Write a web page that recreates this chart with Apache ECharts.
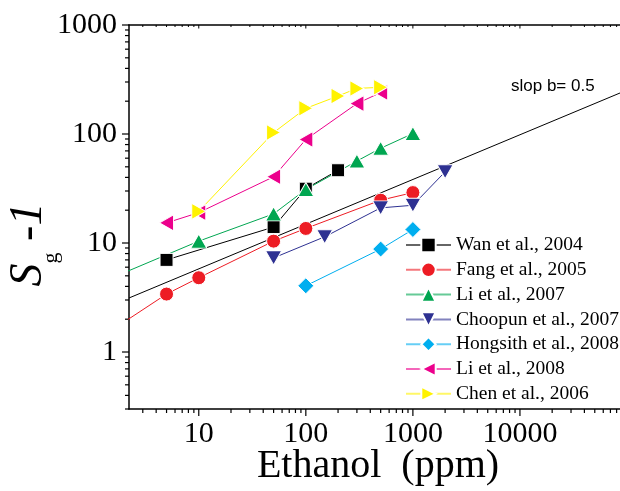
<!DOCTYPE html>
<html>
<head>
<meta charset="utf-8">
<script src="https://cdn.jsdelivr.net/npm/echarts@6/dist/echarts.min.js"></script>
<style>
  html, body { margin: 0; padding: 0; background: #fff; }
  #chart { width: 620px; height: 491px; }
</style>
</head>
<body>
<div id="chart"></div>
<script>
// axis ranges (log scale)
const X_MIN = 2.23, X_MAX = 100000;
const Y_MIN = 0.3, Y_MAX = 1000;
const xDecades = [1, 10, 100, 1000, 10000];
const yDecades = [0.1, 1, 10, 100];

// [ethanol ppm, Sg-1]
const wan2004 = [[5, 7], [50, 14], [100, 31.5], [200, 46.5]];
const fang2005 = [[1, 1.2], [5, 3.4], [10, 4.8], [50, 10.4], [100, 13.6], [500, 24.7], [1000, 29]];
const li2007 = [[1, 4], [10, 10.4], [50, 18.5], [100, 31], [300, 56.5], [500, 74], [1000, 101]];
const choopun2007 = [[50, 7.3], [150, 11.4], [500, 21], [1000, 22.2], [2000, 45]];
const hongsith2008 = [[100, 4.05], [500, 8.8], [1000, 13.3]];
const li2008 = [[5, 15.3], [10, 19], [50, 40.5], [100, 89], [300, 190], [500, 240]];
const chen2006 = [[10, 19.5], [50, 103], [100, 172], [200, 223], [300, 262], [500, 268]];
const slopeLine = [[2.23, 3.13], [100000, 253]];

const names = ['Wan et al., 2004', 'Fang et al., 2005', 'Li et al., 2007', 'Choopun et al., 2007',
  'Hongsith et al., 2008', 'Li et al., 2008', 'Chen et al., 2006'];
const colors = ['#000000', '#ed1c24', '#00a651', '#2e3192', '#00aeef', '#ec008c', '#fff200'];
const symbols = ['rect', 'circle', 'triangle', 'triangle', 'diamond', 'triangle', 'triangle'];
const symbolRotates = [0, 0, 0, 180, 0, 90, -90];
const symbolSizes = [13, 14, [16, 14], [16, 14], 16, [16, 14], [16, 14]];
const seriesData = [wan2004, fang2005, li2007, choopun2007, hongsith2008, li2008, chen2006];

const isPow10 = v => Math.abs(Math.log10(v) - Math.round(Math.log10(v))) < 1e-6;

// tick positions: every 1..9 multiple of each decade inside the range
let xTicks = [], yTicks = [];
xDecades.forEach(d => { for (let k = 1; k <= 9; k++) { const v = k * d; if (v >= X_MIN && v <= X_MAX) xTicks.push([v, Y_MIN]); } });
yDecades.forEach(d => { for (let k = 1; k <= 9; k++) { const v = Math.round(k * d * 10) / 10; if (v >= Y_MIN && v <= Y_MAX) yTicks.push([X_MIN, v]); } });
yTicks.push([X_MIN, 1000]);

const chart = echarts.init(document.getElementById('chart'));

const serif = 'Liberation Serif';

let series = [{
  type: 'line',
  name: 'slope',
  data: slopeLine,
  showSymbol: false,
  symbol: 'none',
  lineStyle: { color: '#000', width: 1 },
  z: 1,
  silent: true
}];

seriesData.forEach((d, i) => {
  series.push({
    type: 'line',
    name: names[i],
    data: d,
    symbol: symbols[i],
    symbolRotate: symbolRotates[i],
    symbolSize: symbolSizes[i],
    lineStyle: { color: colors[i], width: 1 },
    itemStyle: { color: colors[i], borderColor: '#fff', borderWidth: 1 },
    z: 3
  });
});

series.push({
  type: 'custom',
  silent: true,
  data: xTicks,
  renderItem: function (params, api) {
    const v = api.value(0);
    const b = api.coord([v, Y_MIN]);
    const t = api.coord([v, Y_MAX]);
    const len = isPow10(v) ? 7 : 4;
    return {
      type: 'group',
      children: [
        { type: 'line', shape: { x1: b[0], y1: b[1], x2: b[0], y2: b[1] + len }, style: { stroke: '#000', lineWidth: 1.2 } },
        { type: 'line', shape: { x1: t[0], y1: t[1], x2: t[0], y2: t[1] + len / 2 }, style: { stroke: '#000', lineWidth: 1 } }
      ]
    };
  }
});

series.push({
  type: 'custom',
  silent: true,
  data: yTicks,
  renderItem: function (params, api) {
    const v = api.value(1);
    const p = api.coord([X_MIN, v]);
    const len = isPow10(v) ? 7 : 4;
    return { type: 'line', shape: { x1: p[0], y1: p[1], x2: p[0] - len, y2: p[1] }, style: { stroke: '#000', lineWidth: 1.2 } };
  }
});

const labelFmt = v => (isPow10(v) && v < 50000) ? String(Math.round(v)) : '';

chart.setOption({
  animation: false,
  backgroundColor: '#fff',
  grid: { left: 129, top: 25, right: -7, bottom: 82, outerBoundsMode: 'none', containLabel: false },
  xAxis: [{
    type: 'log',
    logBase: 10,
    min: X_MIN,
    max: X_MAX,
    name: 'Ethanol  (ppm)',
    nameLocation: 'middle',
    nameGap: 37,
    nameMoveOverlap: false,
    nameTextStyle: { fontFamily: serif, fontSize: 40, lineHeight: 40, color: '#000' },
    axisLine: { lineStyle: { color: '#000', width: 1.5 } },
    axisTick: { show: false },
    splitLine: { show: false },
    axisLabel: { formatter: labelFmt, fontFamily: serif, fontSize: 30, lineHeight: 30, color: '#000', margin: 10 }
  }, {
    type: 'log',
    logBase: 10,
    min: X_MIN,
    max: X_MAX,
    position: 'top',
    axisLine: { lineStyle: { color: '#000', width: 1.5 } },
    axisTick: { show: false },
    axisLabel: { show: false },
    splitLine: { show: false }
  }],
  yAxis: {
    type: 'log',
    logBase: 10,
    min: Y_MIN,
    max: Y_MAX,
    axisLine: { lineStyle: { color: '#000', width: 1.5 } },
    axisTick: { show: false },
    splitLine: { show: false },
    axisLabel: { formatter: labelFmt, fontFamily: serif, fontSize: 30, color: '#000', margin: 12 }
  },
  legend: {
    orient: 'vertical',
    left: 405,
    top: 235,
    padding: 0,
    itemWidth: 45,
    itemHeight: 18,
    itemGap: 4.8,
    selectedMode: false,
    data: names,
    lineStyle: { opacity: 0.6 },
    textStyle: { fontFamily: serif, fontSize: 19.5, lineHeight: 20, color: '#000' }
  },
  graphic: [{
    type: 'text',
    x: 511,
    y: 86,
    style: { text: 'slop b= 0.5', font: '17px "Liberation Sans"', fill: '#000', verticalAlign: 'middle' }
  }, {
    type: 'text',
    x: 6,
    y: 244.5,
    rotation: Math.PI / 2,
    style: {
      text: '{s|S}{g|g}{s| -1}',
      align: 'center',
      verticalAlign: 'top',
      fill: '#000',
      rich: {
        s: { fontFamily: serif, fontStyle: 'italic', fontSize: 46, lineHeight: 46, verticalAlign: 'top' },
        g: { fontFamily: serif, fontSize: 22, verticalAlign: 'top', padding: [34, 0, 0, 0] }
      }
    }
  }],
  series: series
});
</script>
</body>
</html>
